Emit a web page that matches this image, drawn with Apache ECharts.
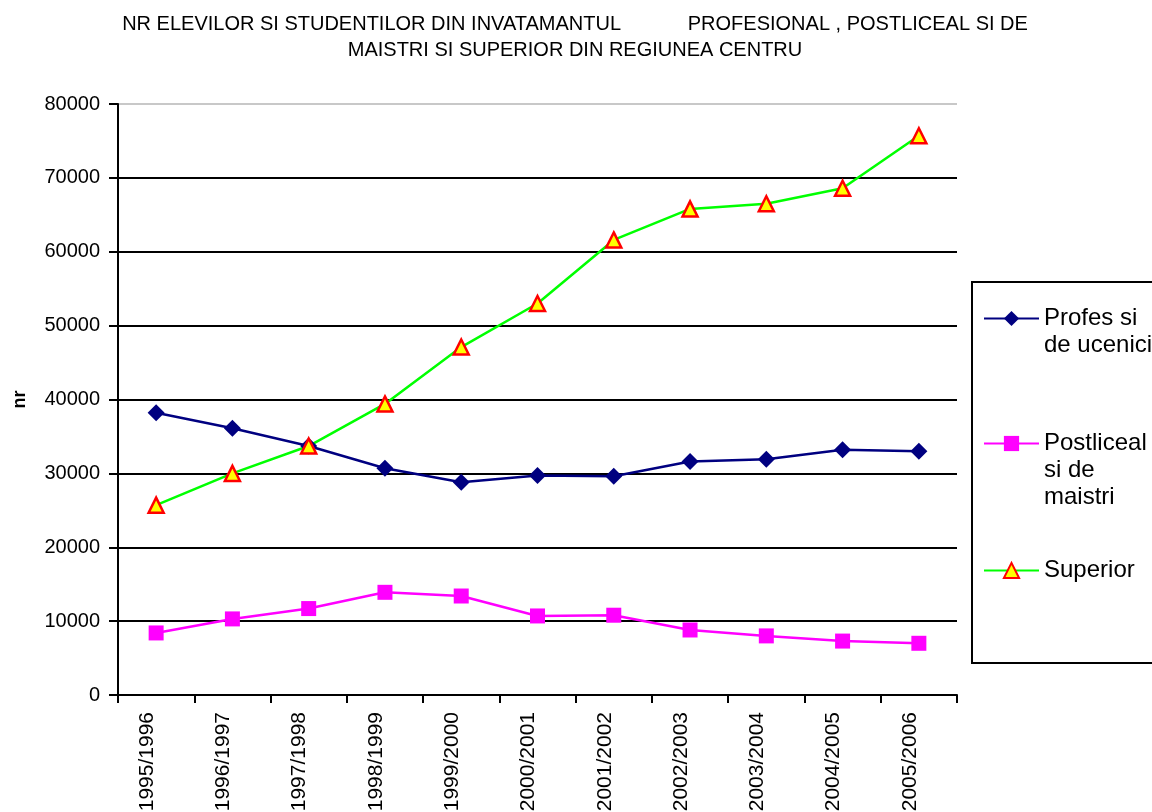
<!DOCTYPE html>
<html>
<head>
<meta charset="utf-8">
<script src="https://cdn.jsdelivr.net/npm/echarts@6/dist/echarts.min.js"></script>
<style>
  html, body {margin: 0; padding: 0; background: #fff;}
  #chart {width: 1152px; height: 812px;}
</style>
</head>
<body>
<div id="chart"></div>
<script>
let years = ['1995/1996', '1996/1997', '1997/1998', '1998/1999', '1999/2000', '2000/2001',
    '2001/2002', '2002/2003', '2003/2004', '2004/2005', '2005/2006']
let profes = [38200, 36100, 33700, 30700, 28800, 29700, 29600, 31600, 31900, 33200, 33000]
let postliceal = [8400, 10300, 11700, 13900, 13400, 10700, 10800, 8800, 8000, 7300, 7000]
let superior = [25700, 30000, 33700, 39400, 47100, 53000, 61600, 65800, 66500, 68600, 75700]
let names = ['Profes si\nde ucenici', 'Postliceal\nsi de\nmaistri', 'Superior']

let font = 'Liberation Sans, Arial, sans-serif'

// one legend per item; leading blank lines keep the icon level with the first text line
let legendAt = (name, top, lines) => ({
    data: [name],
    orient: 'vertical',
    left: 983,
    top: top,
    padding: 0,
    itemWidth: 55,
    itemHeight: 19,
    itemGap: 0,
    formatter: n => '\n'.repeat(lines - 1) + n,
    textStyle: {fontFamily: font, fontSize: 24, color: '#000', lineHeight: 27},
    selectedMode: false
})

let option = {
    animation: false,
    title: {
        text: 'NR ELEVILOR SI STUDENTILOR DIN INVATAMANTUL            PROFESIONAL , POSTLICEAL SI DE\nMAISTRI SI SUPERIOR DIN REGIUNEA CENTRU',
        left: 570,
        textAlign: 'center',
        top: 6,
        textStyle: {fontFamily: font, fontSize: 20, fontWeight: 'normal', color: '#000', lineHeight: 26}
    },
    legend: [
        legendAt(names[0], 278, 2),
        legendAt(names[1], 376, 3),
        legendAt(names[2], 557, 1)
    ],
    graphic: [{
        type: 'rect',
        shape: {x: 972, y: 282, width: 200, height: 381},
        style: {fill: 'none', stroke: '#000', lineWidth: 2},
        silent: true
    }],
    grid: {left: 118, right: 195, top: 104, bottom: 117, outerBoundsMode: 'none'},
    xAxis: {
        type: 'category',
        data: years,
        boundaryGap: true,
        axisLine: {lineStyle: {color: '#000', width: 2}},
        axisTick: {show: true, length: 8, lineStyle: {color: '#000', width: 2}},
        axisLabel: {
            rotate: 90, fontFamily: font, fontSize: 21, color: '#000', margin: 17, interval: 0,
            verticalAlign: 'bottom', lineHeight: 18
        }
    },
    yAxis: {
        type: 'value',
        min: 0,
        max: 80000,
        interval: 10000,
        name: 'nr',
        nameLocation: 'middle',
        nameGap: 89,
        nameRotate: 90,
        nameTextStyle: {fontFamily: font, fontSize: 18, fontWeight: 'bold', color: '#000'},
        axisLine: {show: true, lineStyle: {color: '#000', width: 2}},
        axisTick: {show: true, length: 9, lineStyle: {color: '#000', width: 2}},
        axisLabel: {fontFamily: font, fontSize: 20, color: '#000', margin: 18, formatter: v => String(v)},
        splitLine: {
            show: true,
            lineStyle: {
                color: ['#000', '#000', '#000', '#000', '#000', '#000', '#000', '#000', '#c8c8c8'],
                width: 2
            }
        }
    },
    series: [
        {
            type: 'line',
            name: names[0],
            data: profes,
            symbol: 'diamond',
            symbolSize: 17,
            lineStyle: {color: '#000080', width: 2.5},
            itemStyle: {color: '#000080'}
        },
        {
            type: 'line',
            name: names[1],
            data: postliceal,
            symbol: 'rect',
            symbolSize: 15,
            lineStyle: {color: '#ff00ff', width: 2.5},
            itemStyle: {color: '#ff00ff'}
        },
        {
            type: 'line',
            name: names[2],
            data: superior,
            symbol: 'triangle',
            symbolSize: 15,
            lineStyle: {color: '#00ff00', width: 2.5},
            itemStyle: {color: '#ffff00', borderColor: '#ff0000', borderWidth: 2.5}
        }
    ]
}

echarts.init(document.getElementById('chart')).setOption(option)
</script>
</body>
</html>
